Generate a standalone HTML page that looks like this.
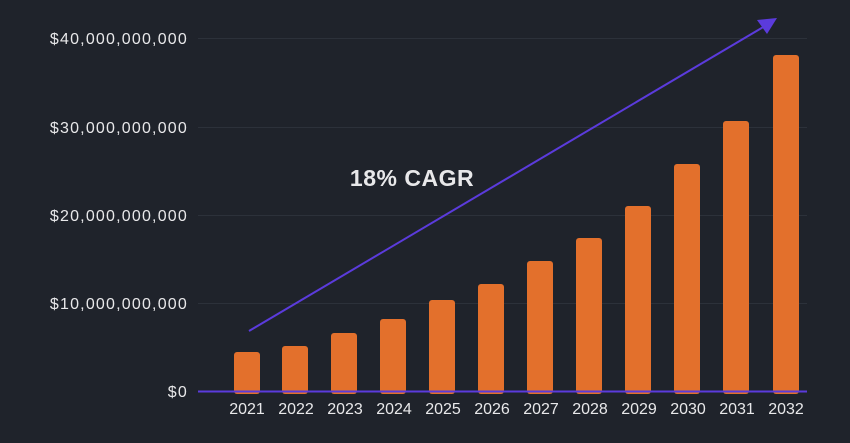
<!DOCTYPE html>
<html><head><style>
body{margin:0;background:#1f232b;}
svg{display:block}
text{font-family:"Liberation Sans",sans-serif;fill:#e8e8ea;}
</style></head><body>
<svg width="850" height="443" viewBox="0 0 850 443">
<rect width="850" height="443" fill="#1f232b"/>
<g stroke="#2c313a" stroke-width="1">
<line x1="198" y1="38.5" x2="807" y2="38.5"/>
<line x1="198" y1="127.5" x2="807" y2="127.5"/>
<line x1="198" y1="215.5" x2="807" y2="215.5"/>
<line x1="198" y1="303.5" x2="807" y2="303.5"/>
</g>
<g font-size="16" text-anchor="end" letter-spacing="1.2">
<text x="188" y="44">$40,000,000,000</text>
<text x="188" y="133">$30,000,000,000</text>
<text x="188" y="221">$20,000,000,000</text>
<text x="188" y="309">$10,000,000,000</text>
<text x="188" y="397">$0</text>
</g>
<g fill="#e3702c">
<rect x="234" y="352" width="26" height="42" rx="3"/>
<rect x="282" y="346" width="26" height="48" rx="3"/>
<rect x="331" y="333" width="26" height="61" rx="3"/>
<rect x="380" y="319" width="26" height="75" rx="3"/>
<rect x="429" y="300" width="26" height="94" rx="3"/>
<rect x="478" y="284" width="26" height="110" rx="3"/>
<rect x="527" y="261" width="26" height="133" rx="3"/>
<rect x="576" y="238" width="26" height="156" rx="3"/>
<rect x="625" y="206" width="26" height="188" rx="3"/>
<rect x="674" y="164" width="26" height="230" rx="3"/>
<rect x="723" y="121" width="26" height="273" rx="3"/>
<rect x="773" y="55" width="26" height="339" rx="3"/>
</g>
<line x1="198" y1="391.5" x2="807" y2="391.5" stroke="#5b3bdc" stroke-width="2"/>
<g font-size="16" text-anchor="middle">
<text x="247" y="414">2021</text><text x="296" y="414">2022</text><text x="345" y="414">2023</text>
<text x="394" y="414">2024</text><text x="443" y="414">2025</text><text x="492" y="414">2026</text>
<text x="541" y="414">2027</text><text x="590" y="414">2028</text><text x="639" y="414">2029</text>
<text x="688" y="414">2030</text><text x="737" y="414">2031</text><text x="786" y="414">2032</text>
</g>
<line x1="249" y1="331" x2="765" y2="26" stroke="#5b3bdc" stroke-width="2"/>
<polygon points="757,20 777,18 767,34" fill="#5b3bdc"/>
<text x="412" y="186" font-size="23" font-weight="bold" text-anchor="middle" fill="#ffffff" letter-spacing="0.5">18% CAGR</text>
</svg>
</body></html>
